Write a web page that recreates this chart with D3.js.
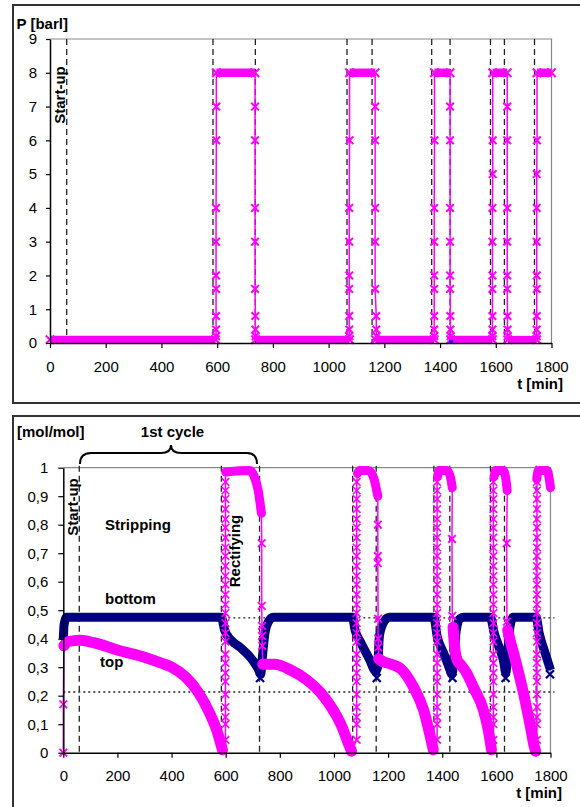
<!DOCTYPE html>
<html><head><meta charset="utf-8">
<script src="https://cdn.jsdelivr.net/npm/d3@7"></script>
<style>
body{margin:0;background:#fff;}
svg{display:block;font-family:"Liberation Sans",Arial,sans-serif;}
</style></head><body>
<svg id="c" width="580" height="807"></svg>
<script>
// ---------- shared ticks ----------
const timeTicks = [0,200,400,600,800,1000,1200,1400,1600,1800];
const pressureTicks = [0,1,2,3,4,5,6,7,8,9];
const moleTicks = [0,0.1,0.2,0.3,0.4,0.5,0.6,0.7,0.8,0.9,1];

// ---------- pressure chart data ----------
const pPhaseLines = [60,585,737,1066,1156,1370,1436,1581,1631,1739];
const pLowLevel = 0.1;
const pHighLevel = 8;
const pLowBands = [[0,594],[738,1075],[1168,1379],[1438,1588],[1643,1747]];
const pHighBands = [[597,736],[1075,1167],[1380,1436],[1589,1641],[1748,1800]];
const pRises = [
  [[596,0.2],[596,0.4],[596,0.8],[596,1.6],[596,2],[596,3],[596,4],[597,6],[597,7]],
  [[1074,0.2],[1074,0.4],[1074,0.8],[1074,1.6],[1074,2],[1074,3],[1074,4],[1075,6]],
  [[1379,0.2],[1379,0.4],[1379,0.8],[1379,1.6],[1379,2],[1379,3],[1379,4],[1380,6]],
  [[1588,0.2],[1588,0.4],[1588,0.8],[1588,1.6],[1588,2],[1588,3],[1588,4],[1589,5],[1589,6]],
  [[1747,0.2],[1747,0.4],[1747,0.8],[1747,1.6],[1747,2],[1747,3],[1747,4],[1747,5],[1748,6]]
];
const pFalls = [
  [[736,7],[736,6],[736,4],[736,3],[736,1.6],[737,0.8],[737,0.4],[738,0.2]],
  [[1167,7],[1167,6],[1167,4],[1167,3],[1167,1.6],[1171,0.8],[1171,0.4],[1172,0.2]],
  [[1436,7],[1436,6],[1436,4],[1436,3],[1436,2],[1436,1.6],[1437,0.8],[1437,0.4],[1438,0.2]],
  [[1641,7],[1641,6],[1641,4],[1641,3],[1641,2],[1641,1.6],[1642,0.8],[1642,0.4],[1643,0.2]]
];
const pOtherPoints = [[1440,0.02]];

// ---------- composition chart data ----------
const xPhaseLines = [59,584,725,1069,1156,1369,1428,1578,1630,1747];
const xDottedLevels = [0.473,0.213];
const bottomSeries = [[0,0.40],[3,0.45],[12,0.475],[584,0.475],[596,0.43],[620,0.395],[653,0.37],[703,0.32],[722,0.29],[729,0.275],[736,0.34],[745,0.42],[758,0.46],[775,0.475],[1068,0.475],[1078,0.43],[1100,0.385],[1130,0.33],[1155,0.285],[1161,0.30],[1168,0.41],[1185,0.46],[1205,0.475],[1369,0.475],[1381,0.41],[1405,0.35],[1425,0.30],[1436,0.275],[1443,0.33],[1452,0.43],[1465,0.47],[1480,0.475],[1578,0.475],[1592,0.42],[1610,0.37],[1627,0.32],[1635,0.28],[1641,0.34],[1650,0.44],[1662,0.475],[1747,0.475],[1758,0.42],[1780,0.35],[1800,0.29]];
const bottomLowMarks = [[727,0.262],[1158,0.262],[1438,0.262],[1634,0.262],[1798,0.275],[2,0.39]];

const topStart = [[0,0],[0,0.17]];
const topStripping = [
  [[2,0.375],[20,0.39],[60,0.395],[136,0.38],[200,0.36],[300,0.335],[360,0.315],[400,0.30],[450,0.267],[500,0.21],[540,0.14],[570,0.07],[588,0.01]],
  [[737,0.31],[780,0.31],[840,0.29],[900,0.255],[960,0.20],[1000,0.145],[1030,0.09],[1050,0.04],[1065,0.005]],
  [[1165,0.33],[1180,0.32],[1196,0.315],[1246,0.295],[1294,0.23],[1331,0.15],[1355,0.06],[1367,0.01]],
  [[1440,0.44],[1446,0.37],[1455,0.325],[1467,0.31],[1490,0.28],[1515,0.23],[1552,0.15],[1570,0.08],[1582,0.01]],
  [[1642,0.43],[1652,0.39],[1665,0.345],[1677,0.30],[1700,0.21],[1726,0.09],[1738,0.03],[1745,0.005]]
];
const topRectifying = [
  [[600,0.985],[690,0.99],[705,0.97],[720,0.92],[732,0.84]],
  [[1087,0.98],[1095,0.99],[1128,0.99],[1148,0.96],[1162,0.90]],
  [[1383,0.97],[1388,0.99],[1418,0.99],[1432,0.96],[1437,0.93]],
  [[1592,0.97],[1597,0.99],[1625,0.99],[1635,0.96],[1640,0.92]],
  [[1749,0.96],[1755,0.99],[1788,0.99],[1797,0.95],[1800,0.93]]
];
const topRiseTimes = [599,1084,1381,1589,1750];
const topRiseValues = [0.045,0.1,0.125,0.16,0.205,0.25,0.28,0.315,0.345,0.39,0.42,0.455,0.49,0.52,0.555,0.59,0.62,0.655,0.69,0.72,0.755,0.79,0.82,0.855,0.89,0.92,0.95];
const topFalls = [
  [[733,0.735],[733,0.515],[734,0.445],[734,0.41],[735,0.375]],
  [[1162,0.80],[1162,0.69],[1162,0.665],[1163,0.47],[1163,0.40],[1164,0.37]],
  [[1436,0.75],[1437,0.48],[1438,0.44]],
  [[1638,0.735],[1639,0.46],[1640,0.42]]
];

// ---------- drawing ----------
const MAG = "#ff00ff", NAVY = "#000080";
const svg = d3.select("#c");
const FONT = 15;

function xMark(g, pts, x, y, s, color, w){
  g.selectAll(null).data(pts).join("path")
    .attr("d", d => { const cx=x(d[0]), cy=y(d[1]);
      return `M${cx-s},${cy-s}L${cx+s},${cy+s}M${cx-s},${cy+s}L${cx+s},${cy-s}`; })
    .attr("stroke", color).attr("stroke-width", w).attr("fill","none");
}

// outer frames
svg.append("rect").attr("x",13).attr("y",5).attr("width",600).attr("height",398)
  .attr("fill","none").attr("stroke","#333").attr("stroke-width",2);
svg.append("rect").attr("x",13).attr("y",416).attr("width",600).attr("height",400)
  .attr("fill","none").attr("stroke","#333").attr("stroke-width",2);

// ===== pressure chart =====
{
  const x = d3.scaleLinear().domain([0,1800]).range([50,551.5]);
  const y = d3.scaleLinear().domain([0,9]).range([343,39]);
  const g = svg.append("g");
  g.append("path").attr("d",`M${x(0)},${y(9)}H${x(1800)}V${y(0)}`).attr("fill","none").attr("stroke","#888").attr("stroke-width",1.2);
  g.selectAll(null).data(pPhaseLines).join("line")
    .attr("x1",d=>x(d)).attr("x2",d=>x(d)).attr("y1",y(9)).attr("y2",y(0))
    .attr("stroke","#222").attr("stroke-width",1.3).attr("stroke-dasharray","6,4");
  const seq = [];
  pLowBands.forEach((b,i)=>{
    seq.push([b[0],pLowLevel],[b[1],pLowLevel]);
    if(pRises[i]){ pRises[i].forEach(p=>seq.push(p)); }
    if(pHighBands[i]){ seq.push([pHighBands[i][0],pHighLevel],[pHighBands[i][1],pHighLevel]); }
    if(pFalls[i]){ pFalls[i].forEach(p=>seq.push(p)); }
  });
  const line = d3.line().x(d=>x(d[0])).y(d=>y(d[1]));
  g.append("path").attr("d",line(seq)).attr("fill","none").attr("stroke",MAG).attr("stroke-width",1.5);
  g.selectAll(null).data(pLowBands).join("line")
    .attr("x1",d=>x(d[0])).attr("x2",d=>x(d[1])).attr("y1",y(pLowLevel)).attr("y2",y(pLowLevel))
    .attr("stroke",MAG).attr("stroke-width",7.5);
  g.selectAll(null).data(pHighBands).join("line")
    .attr("x1",d=>x(d[0])).attr("x2",d=>x(d[1])).attr("y1",y(pHighLevel)).attr("y2",y(pHighLevel))
    .attr("stroke",MAG).attr("stroke-width",8.5);
  const ends = [];
  pLowBands.forEach(b=>{ends.push([b[0],pLowLevel],[b[1],pLowLevel]);});
  pHighBands.forEach(b=>{ends.push([b[0],pHighLevel],[b[1],pHighLevel]);});
  xMark(g, ends, x, y, 4.2, MAG, 2);
  pRises.forEach(r=>xMark(g, r, x, y, 3.8, MAG, 2));
  pFalls.forEach(r=>xMark(g, r, x, y, 3.8, MAG, 2));
  g.selectAll(null).data(pOtherPoints).join("rect")
    .attr("x",d=>x(d[0])-2).attr("y",d=>y(d[1])-2).attr("width",4).attr("height",3).attr("fill","#0000ff");
  const ax = g.append("g").attr("transform",`translate(0,${y(0)})`)
    .call(d3.axisBottom(x).tickValues(timeTicks).tickSizeInner(5).tickSizeOuter(0).tickFormat(d3.format("d")));
  ax.selectAll("text").attr("dy",null).attr("y",28.5);
  const ay = g.append("g").attr("transform",`translate(${x(0)},0)`)
    .call(d3.axisLeft(y).tickValues(pressureTicks).tickSizeInner(4).tickSizeOuter(0).tickPadding(9));
  [ax,ay].forEach(a=>{
    a.selectAll("text").attr("font-size",FONT).attr("fill","#000").attr("font-family",'"Liberation Sans",Arial,sans-serif');
    a.selectAll("line").attr("stroke","#000").attr("stroke-width",1.2);
    a.select(".domain").attr("stroke","#000").attr("stroke-width",1.5);
  });
  g.append("text").attr("x",16.5).attr("y",28.5).attr("font-weight","bold").attr("font-size",FONT).text("P [barl]");
  g.append("text").attr("x",563).attr("y",388.5).attr("text-anchor","end").attr("font-weight","bold").attr("font-size",FONT).text("t [min]");
  g.append("text").attr("transform","translate(65,95) rotate(-90)").attr("text-anchor","middle")
    .attr("font-weight","bold").attr("font-size",FONT).text("Start-up");
}

// ===== composition chart =====
{
  const x = d3.scaleLinear().domain([0,1800]).range([63.3,550.5]);
  const y = d3.scaleLinear().domain([0,1]).range([752.7,467.7]);
  const g = svg.append("g");
  g.append("path").attr("d",`M${x(0)},${y(1)}H${x(1800)}V${y(0)}`).attr("fill","none").attr("stroke","#888").attr("stroke-width",1.2);
  g.selectAll(null).data(xDottedLevels).join("line")
    .attr("x1",x(0)).attr("x2",x(1800)+4).attr("y1",d=>y(d)).attr("y2",d=>y(d))
    .attr("stroke","#222").attr("stroke-width",1.3).attr("stroke-dasharray","2,3");
  g.selectAll(null).data(xPhaseLines).join("line")
    .attr("x1",d=>x(d)).attr("x2",d=>x(d)).attr("y1",y(1)-2).attr("y2",y(0))
    .attr("stroke","#222").attr("stroke-width",1.3).attr("stroke-dasharray","6,4");

  const smooth = d3.line().x(d=>x(d[0])).y(d=>y(d[1])).curve(d3.curveMonotoneX);
  const straight = d3.line().x(d=>x(d[0])).y(d=>y(d[1]));

  g.append("path").attr("d",smooth(bottomSeries)).attr("fill","none").attr("stroke",NAVY)
    .attr("stroke-width",9).attr("stroke-linejoin","round").attr("stroke-linecap","butt");
  xMark(g, bottomLowMarks, x, y, 4, NAVY, 2.2);

  const seq = [...topStart];
  topStripping.forEach((s,i)=>{
    s.forEach(p=>seq.push(p));
    if(topRiseTimes[i]!==undefined){ topRiseValues.forEach(v=>seq.push([topRiseTimes[i],v])); }
    topRectifying[i].forEach(p=>seq.push(p));
    if(topFalls[i]){ topFalls[i].forEach(p=>seq.push(p)); }
  });
  g.append("path").attr("d",straight(seq)).attr("fill","none").attr("stroke",MAG).attr("stroke-width",1.5);
  topStripping.forEach(s=>{
    g.append("path").attr("d",smooth(s)).attr("fill","none").attr("stroke",MAG)
      .attr("stroke-width",11).attr("stroke-linejoin","round").attr("stroke-linecap","round");
  });
  topRectifying.forEach(s=>{
    g.append("path").attr("d",smooth(s)).attr("fill","none").attr("stroke",MAG)
      .attr("stroke-width",9).attr("stroke-linejoin","round").attr("stroke-linecap","round");
  });
  topRiseTimes.forEach(t=>xMark(g, topRiseValues.map(v=>[t,v]), x, y, 3.8, MAG, 1.6));
  topFalls.forEach(f=>xMark(g, f, x, y, 3.8, MAG, 1.8));
  xMark(g, topStart, x, y, 3.8, MAG, 1.8);

  const ax = g.append("g").attr("transform",`translate(0,${y(0)})`)
    .call(d3.axisBottom(x).tickValues(timeTicks).tickSizeInner(5).tickSizeOuter(0).tickFormat(d3.format("d")));
  ax.selectAll("text").attr("dy",null).attr("y",28);
  const ay = g.append("g").attr("transform",`translate(${x(0)},0)`)
    .call(d3.axisLeft(y).tickValues(moleTicks).tickSizeInner(5).tickSizeOuter(0).tickPadding(10)
      .tickFormat(d=>d3.format(".1~f")(d).replace(".",",")));
  [ax,ay].forEach(a=>{
    a.selectAll("text").attr("font-size",FONT).attr("fill","#000").attr("font-family",'"Liberation Sans",Arial,sans-serif');
    a.selectAll("line").attr("stroke","#000").attr("stroke-width",1.2);
    a.select(".domain").attr("stroke","#000").attr("stroke-width",1.5);
  });

  const lab = (tx,ty,txt,anchor,tr)=>{
    const t = g.append("text").attr("font-weight","bold").attr("font-size",FONT).text(txt);
    if(tr){ t.attr("transform",tr).attr("text-anchor","middle"); }
    else { t.attr("x",tx).attr("y",ty).attr("text-anchor",anchor||"start"); }
  };
  lab(17,437,"[mol/mol]");
  lab(172.5,437,"1st cycle","middle");
  lab(105,530,"Stripping");
  lab(105,604,"bottom");
  lab(100,667,"top");
  lab(562,797.5,"t [min]","end");
  lab(0,0,"Start-up",null,"translate(77.5,507) rotate(-90)");
  lab(0,0,"Rectifying",null,"translate(240,551) rotate(-90)");
  g.append("path").attr("d","M80,464 Q80,453 91,453 L161,453 Q171,453 171,445 Q171,453 181,453 L247,453 Q257,453 257,464")
    .attr("fill","none").attr("stroke","#000").attr("stroke-width",2);
}
</script></body></html>
